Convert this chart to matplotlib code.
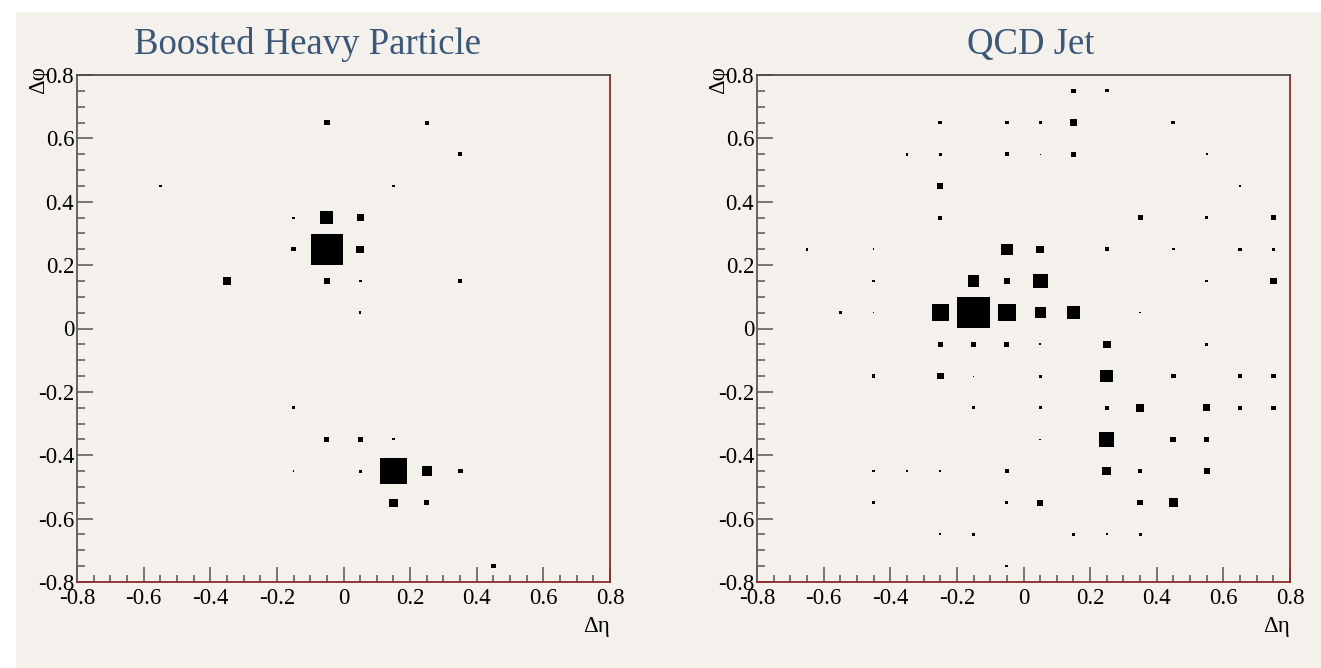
import matplotlib.pyplot as plt
from matplotlib.patches import Rectangle
from matplotlib.collections import PatchCollection
from matplotlib.ticker import MultipleLocator

plt.rcParams['axes.unicode_minus'] = False
plt.rcParams['font.family'] = ['Liberation Serif', 'DejaVu Serif']

BIN = 0.1
PAPER = '#f4f1ec'
TITLE_BLUE = '#3b5676'
FRAME_RED = '#8e2b2b'

# ----- cell contents: bin centre in (delta eta, delta phi) and deposited energy -----

heavy_eta = [-0.05, 0.25, 0.35, -0.55, 0.15, -0.15, -0.05, 0.05, -0.15, -0.05,
             0.05, -0.35, -0.05, 0.05, 0.35, 0.05, -0.15, -0.05, 0.05, 0.15,
             -0.15, 0.05, 0.15, 0.25, 0.35, 0.15, 0.25, 0.45]
heavy_phi = [0.65, 0.65, 0.55, 0.45, 0.45, 0.35, 0.35, 0.35, 0.25, 0.25,
             0.25, 0.15, 0.15, 0.15, 0.15, 0.05, -0.25, -0.35, -0.35, -0.35,
             -0.45, -0.45, -0.45, -0.45, -0.45, -0.55, -0.55, -0.75]
heavy_e = [19, 13, 13, 8, 8, 7, 40, 21, 13, 100,
           23, 25, 18, 9, 13, 8, 8, 15, 15, 7,
           5, 10, 86, 31, 15, 25, 15, 15]

qcd_eta = [0.15, 0.25,
           -0.25, -0.05, 0.05, 0.15, 0.45,
           -0.35, -0.25, -0.05, 0.05, 0.15, 0.55,
           -0.25, 0.65,
           -0.25, 0.35, 0.55, 0.75,
           -0.65, -0.45, -0.05, 0.05, 0.25, 0.45, 0.65, 0.75,
           -0.45, -0.15, -0.05, 0.05, 0.55, 0.75,
           -0.55, -0.45, -0.25, -0.15, -0.05, 0.05, 0.15, 0.35,
           -0.25, -0.15, -0.05, 0.05, 0.25, 0.55,
           -0.45, -0.25, -0.15, 0.05, 0.25, 0.45, 0.65, 0.75,
           -0.15, 0.05, 0.25, 0.35, 0.55, 0.65, 0.75,
           0.05, 0.25, 0.45, 0.55,
           -0.45, -0.35, -0.25, -0.05, 0.25, 0.35, 0.55,
           -0.45, -0.05, 0.05, 0.35, 0.45,
           -0.25, -0.15, 0.15, 0.25, 0.35,
           -0.05]
qcd_phi = [0.75, 0.75,
           0.65, 0.65, 0.65, 0.65, 0.65,
           0.55, 0.55, 0.55, 0.55, 0.55, 0.55,
           0.45, 0.45,
           0.35, 0.35, 0.35, 0.35,
           0.25, 0.25, 0.25, 0.25, 0.25, 0.25, 0.25, 0.25,
           0.15, 0.15, 0.15, 0.15, 0.15, 0.15,
           0.05, 0.05, 0.05, 0.05, 0.05, 0.05, 0.05, 0.05,
           -0.05, -0.05, -0.05, -0.05, -0.05, -0.05,
           -0.15, -0.15, -0.15, -0.15, -0.15, -0.15, -0.15, -0.15,
           -0.25, -0.25, -0.25, -0.25, -0.25, -0.25, -0.25,
           -0.35, -0.35, -0.35, -0.35,
           -0.45, -0.45, -0.45, -0.45, -0.45, -0.45, -0.45,
           -0.55, -0.55, -0.55, -0.55, -0.55,
           -0.65, -0.65, -0.65, -0.65, -0.65,
           -0.75]
qcd_e = [14, 10,
         12, 12, 8, 20, 12,
         8, 8, 11, 3, 14, 5,
         16, 7,
         12, 15, 8, 15,
         8, 5, 34, 22, 12, 7, 10, 8,
         7, 34, 18, 43, 8, 20,
         10, 4, 50, 94, 52, 32, 38, 5,
         14, 14, 14, 7, 22, 10,
         11, 20, 3, 9, 38, 13, 11, 14,
         9, 9, 13, 24, 20, 12, 13,
         4, 44, 17, 14,
         8, 4, 5, 13, 26, 11, 17,
         8, 8, 18, 16, 27,
         6, 11, 11, 6, 9,
         8]

panels = [
    ('Boosted Heavy Particle', heavy_eta, heavy_phi, heavy_e),
    ('QCD Jet', qcd_eta, qcd_phi, qcd_e),
]


def draw_boxes(ax, eta, phi, energy):
    """TH2-style BOX drawing: square side scales with bin content"""
    emax = max(energy)
    boxes = []
    for x, y, e in zip(eta, phi, energy):
        side = 0.97 * BIN * e / emax
        boxes.append(Rectangle((x - side / 2, y - side / 2), side, side))
    ax.add_collection(PatchCollection(boxes, facecolor='black', edgecolor='none'))


fig = plt.figure(figsize=(13.21, 6.68), dpi=100, facecolor='white')
W, H = 1321.0, 668.0

# paper backdrop, leaves a thin white margin on the top and left
fig.patches.append(Rectangle((16 / W, 0), 1 - 16 / W, 1 - 12 / H, transform=fig.transFigure,
                             facecolor=PAPER, edgecolor='none', zorder=-10))

frame_left = [77, 757]
title_centre = [308, 1031]

for i, (title, eta, phi, energy) in enumerate(panels):
    ax = fig.add_axes([frame_left[i] / W, 86 / H, 533 / W, 507 / H])
    ax.set_facecolor('none')
    draw_boxes(ax, eta, phi, energy)

    ax.set_xlim(-0.8, 0.8)
    ax.set_ylim(-0.8, 0.8)
    ax.xaxis.set_major_locator(MultipleLocator(0.2))
    ax.xaxis.set_minor_locator(MultipleLocator(0.05))
    ax.yaxis.set_major_locator(MultipleLocator(0.2))
    ax.yaxis.set_minor_locator(MultipleLocator(0.05))
    ax.xaxis.set_major_formatter(lambda v, pos: '%g' % round(v, 2))
    ax.yaxis.set_major_formatter(lambda v, pos: '%g' % round(v, 2))

    ax.tick_params(which='both', direction='in', top=False, right=False,
                   color='#555555', width=1.1, labelsize=16.5, labelcolor='black')
    ax.tick_params(axis='x', which='major', length=11, pad=4)
    ax.tick_params(axis='x', which='minor', length=5)
    ax.tick_params(axis='y', which='major', length=11.5, pad=2)
    ax.tick_params(axis='y', which='minor', length=5.8)

    ax.spines['top'].set_color('#4a4a4a')
    ax.spines['left'].set_color('#5a5a5a')
    ax.spines['right'].set_color(FRAME_RED)
    ax.spines['bottom'].set_color(FRAME_RED)
    for side in ax.spines.values():
        side.set_linewidth(1.3)

    # axis titles sit at the far ends of the axes, as ROOT puts them
    ax.text(1.0, -0.068, '\u0394\u03b7', transform=ax.transAxes, ha='right', va='top', fontsize=16.5)
    ax.text(-0.072, 1.018, '\u0394\u03c6', transform=ax.transAxes, rotation=90,
            ha='center', va='top', fontsize=16.5)

    fig.text(title_centre[i] / W, 1 - 54 / H, title, ha='center', va='baseline',
             fontsize=26.5, color=TITLE_BLUE)

plt.savefig('out.png', dpi=100, facecolor=fig.get_facecolor())
